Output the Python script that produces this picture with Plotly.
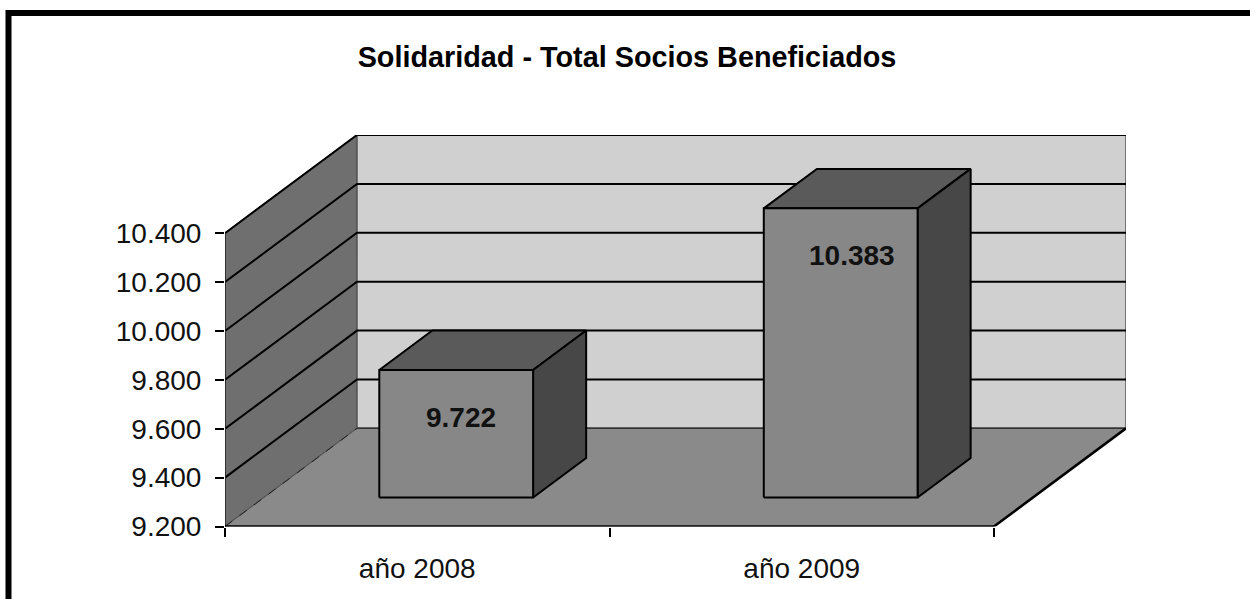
import plotly.graph_objects as go

# --- data ---
title_text = "Solidaridad - Total Socios Beneficiados"
categories = ["año 2008", "año 2009"]
socios = [9722, 10383]
value_labels = ["9.722", "10.383"]
y_ticks = [9200, 9400, 9600, 9800, 10000, 10200, 10400]
y_tick_labels = ["9.200", "9.400", "9.600", "9.800", "10.000", "10.200", "10.400"]

# --- oblique projection, in axis units ---
W, H = 1250, 599
LEFT, RIGHT, BOTTOM, TOP = 225, 1126, 526.5, 135
DEPTH_X = 132 / 384.5        # category widths per full depth
DEPTH_Y = 98 / (293 / 1200)  # value units per full depth
Y0, Y1 = y_ticks[0], y_ticks[-1]
N = len(categories)
BAR_W = 0.4
D0, D1 = 0.295, 0.697
LABEL_NUDGE = [0.012, 0.029]


def proj(x, y, d):
    return x + d * DEPTH_X, y + d * DEPTH_Y


def poly(points, fill, line_color, line_width=2, dash="solid"):
    pts = [proj(*p) for p in points] + [proj(*points[0])]
    return go.Scatter(
        x=[p[0] for p in pts], y=[p[1] for p in pts], mode="lines",
        fill="toself", fillcolor=fill,
        line=dict(color=line_color, width=line_width, dash=dash),
        hoverinfo="skip", showlegend=False,
    )


def seg(points, color="#000000", width=2, dash="solid"):
    pts = [proj(*p) for p in points]
    return go.Scatter(
        x=[p[0] for p in pts], y=[p[1] for p in pts], mode="lines",
        line=dict(color=color, width=width, dash=dash),
        hoverinfo="skip", showlegend=False,
    )


fig = go.Figure()

# walls and floor
fig.add_trace(poly([(0, Y0, 0), (0, Y1, 0), (0, Y1, 1), (0, Y0, 1)], "#6f6f6f", "#555555", 1.5))
fig.add_trace(poly([(0, Y0, 1), (0, Y1, 1), (N, Y1, 1), (N, Y0, 1)], "#d0d0d0", "#555555", 1.5))
fig.add_trace(poly([(0, Y0, 0), (N, Y0, 0), (N, Y0, 1), (0, Y0, 1)], "#8a8a8a", "#555555", 1))

# grid lines on the side and back walls
for t in y_ticks[1:]:
    fig.add_trace(seg([(0, t, 0), (0, t, 1), (N, t, 1)], "#000000", 2))
fig.add_trace(seg([(0, Y0, 0), (0, Y1, 0)], "#222222", 1.5))
fig.add_trace(seg([(0, Y0, 0), (0, Y0, 1)], "#222222", 1, "dash"))
fig.add_trace(seg([(0, Y0, 1), (N, Y0, 1)], "#333333", 1.5))
fig.add_trace(seg([(0, Y0, 0), (N, Y0, 0)], "#000000", 2.5))
fig.add_trace(seg([(N, Y0, 0), (N, Y0, 1)], "#000000", 2.5))

# bars
for i, v in enumerate(socios):
    xl, xr = i + 0.5 - BAR_W / 2, i + 0.5 + BAR_W / 2
    fig.add_trace(poly([(xl, v, D0), (xr, v, D0), (xr, v, D1), (xl, v, D1)], "#5a5a5a", "#000000"))
    fig.add_trace(poly([(xr, Y0, D0), (xr, v, D0), (xr, v, D1), (xr, Y0, D1)], "#474747", "#000000"))
    fig.add_trace(poly([(xl, Y0, D0), (xl, v, D0), (xr, v, D0), (xr, Y0, D0)], "#878787", "#000000"))
    fig.add_annotation(x=i + 0.5 + D0 * DEPTH_X + LABEL_NUDGE[i], y=v - 76, text=f"<b>{value_labels[i]}</b>",
                       showarrow=False, font=dict(family="Liberation Sans", size=28, color="#111111"))

# frame
for x0, y0, x1, y1 in [(8.5, 13, 1250, 13), (8.5, 10, 8.5, 640)]:
    fig.add_shape(type="line", xref="paper", yref="paper", x0=x0 / W, x1=x1 / W,
                  y0=1 - y0 / H, y1=1 - y1 / H, line=dict(color="#000000", width=6), layer="above")

fig.update_layout(
    width=W, height=H,
    margin=dict(l=0, r=0, t=0, b=0),
    paper_bgcolor="#ffffff", plot_bgcolor="#ffffff",
    showlegend=False,
    font=dict(family="Liberation Sans", color="#000000"),
    title=dict(text=f"<b>{title_text}</b>", x=627 / W, xanchor="center",
               y=1 - 57 / H, yanchor="middle", font=dict(size=28.8, color="#000000", family="Liberation Sans")),
    xaxis=dict(
        automargin=False,
        domain=[LEFT / W, RIGHT / W], range=[0, N + DEPTH_X],
        tickmode="array", tickvals=[i + 0.5 for i in range(N)], ticktext=categories,
        ticks="", showgrid=False, zeroline=False, showline=False,
        tickfont=dict(size=28, color="#111111"), ticklabelstandoff=22,
        minor=dict(tickmode="array", tickvals=list(range(N + 1)), ticks="outside",
                   ticklen=9, tickwidth=1.5, tickcolor="#000000", showgrid=False),
    ),
    yaxis=dict(
        automargin=False,
        domain=[1 - BOTTOM / H, 1 - TOP / H], range=[Y0, Y1 + DEPTH_Y],
        tickmode="array", tickvals=y_ticks, ticktext=y_tick_labels,
        ticks="outside", ticklen=9, tickwidth=1.5, tickcolor="#000000",
        showgrid=False, zeroline=False, showline=False,
        tickfont=dict(size=28, color="#111111"), ticklabelstandoff=8,
    ),
)

fig.write_html(
    "out.html",
    default_width="1250px",
    default_height="599px",
    post_script="document.body.style.margin='0';",
    config={"displayModeBar": False},
)
